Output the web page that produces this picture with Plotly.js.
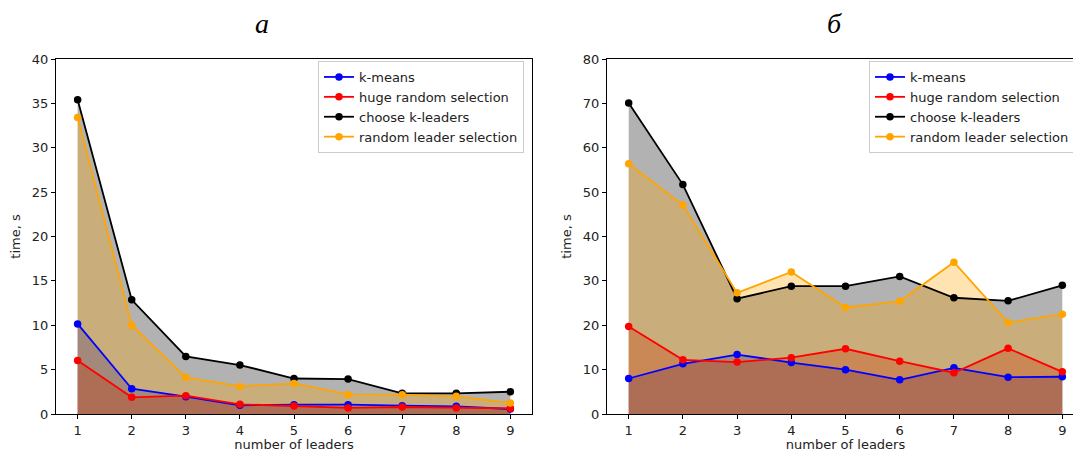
<!DOCTYPE html>
<html>
<head>
<meta charset="utf-8">
<script src="https://cdn.plot.ly/plotly-3.0.1.min.js"></script>
<style>
html, body { margin: 0; padding: 0; overflow: hidden; background: #fff; }
#chart { width: 1100px; height: 452px; }
</style>
</head>
<body>
<div id="chart"></div>
<script>
const leaders = [1, 2, 3, 4, 5, 6, 7, 8, 9];
const seriesNames = ["k-means", "huge random selection", "choose k-leaders", "random leader selection"];

// Panel а
const kmeansA = [10.15, 2.85, 1.95, 0.98, 1.05, 1.05, 0.94, 0.86, 0.56];
const hugeA   = [6.04, 1.88, 2.06, 1.09, 0.90, 0.68, 0.79, 0.68, 0.64];
const chooseA = [35.4, 12.87, 6.49, 5.52, 4.0, 3.94, 2.33, 2.33, 2.51];
const randomA = [33.4, 10.0, 4.13, 3.11, 3.45, 2.21, 2.18, 1.99, 1.24];

// Panel б
const kmeansB = [8.0, 11.3, 13.4, 11.6, 10.0, 7.7, 10.4, 8.3, 8.4];
const hugeB   = [19.7, 12.2, 11.7, 12.7, 14.7, 11.9, 9.3, 14.8, 9.5];
const chooseB = [70.1, 51.7, 26.0, 28.8, 28.8, 31.0, 26.2, 25.5, 29.0];
const randomB = [56.4, 47.1, 27.3, 32.0, 24.0, 25.4, 34.2, 20.6, 22.5];

const panelTitles = ["а", "б"];
const yTitle = "time, s";
const xTitle = "number of leaders";

const colors = ["#0000ff", "#ff0000", "#000000", "#ffa500"];
const fills = ["rgba(0,0,255,0.3)", "rgba(255,0,0,0.3)", "rgba(0,0,0,0.3)", "rgba(255,165,0,0.3)"];

const W = 1100, H = 452;
const panels = [
  {data: [kmeansA, hugeA, chooseA, randomA], xa: "x", ya: "y", legend: "legend"},
  {data: [kmeansB, hugeB, chooseB, randomB], xa: "x2", ya: "y2", legend: "legend2"}
];

const traces = [];
panels.forEach(p => {
  p.data.forEach((ys, i) => {
    traces.push({
      x: leaders, y: ys, xaxis: p.xa, yaxis: p.ya,
      type: "scatter", mode: "none", fill: "tozeroy",
      fillcolor: fills[i], showlegend: false, hoverinfo: "skip"
    });
  });
  p.data.forEach((ys, i) => {
    traces.push({
      x: leaders, y: ys, xaxis: p.xa, yaxis: p.ya,
      type: "scatter", mode: "lines+markers", name: seriesNames[i],
      line: {color: colors[i], width: 1.8},
      marker: {color: colors[i], size: 7.5},
      legend: p.legend
    });
  });
});

const font = {family: "DejaVu Sans, sans-serif", size: 13, color: "#222"};
function xax(d) {
  return {
    domain: d, range: [0.6, 9.4], tickmode: "array", tickvals: leaders,
    showgrid: false, zeroline: false, showline: true, mirror: true,
    linecolor: "#000", linewidth: 1, ticks: "outside", ticklen: 4, tickcolor: "#000",
    tickfont: font, title: {text: xTitle, font: font, standoff: 7}
  };
}
function yax(d, max, dt, anchor) {
  return {
    domain: d, range: [0, max], dtick: dt, tick0: 0, anchor: anchor,
    showgrid: false, zeroline: false, showline: true, mirror: true,
    linecolor: "#000", linewidth: 1, ticks: "outside", ticklen: 4, tickcolor: "#000",
    tickfont: font, title: {text: yTitle, font: font, standoff: 8}
  };
}
const yd = [(H - 414) / H, (H - 59) / H];
const legendBase = {
  font: font, bgcolor: "rgba(255,255,255,0.8)", bordercolor: "#cccccc", borderwidth: 1,
  xanchor: "left", yanchor: "top", y: 1 - 61 / H, tracegroupgap: 0
};

const layout = {
  width: W, height: H, margin: {l: 0, r: 0, t: 0, b: 0},
  paper_bgcolor: "#fff", plot_bgcolor: "#fff",
  xaxis: Object.assign(xax([56 / W, 532 / W]), {anchor: "y"}),
  yaxis: yax(yd, 40, 5, "x"),
  xaxis2: Object.assign(xax([607 / W, 1084 / W]), {anchor: "y2"}),
  yaxis2: yax(yd, 80, 10, "x2"),
  legend: Object.assign({}, legendBase, {x: 318 / W}),
  legend2: Object.assign({}, legendBase, {x: 869 / W}),
  annotations: [
    {text: panelTitles[0], x: 262 / W, y: 1 - 24 / H, xref: "paper", yref: "paper",
     showarrow: false, xanchor: "center", yanchor: "middle",
     font: {family: "Liberation Serif, serif", size: 28, color: "#000", style: "italic"}},
    {text: panelTitles[1], x: 835 / W, y: 1 - 24 / H, xref: "paper", yref: "paper",
     showarrow: false, xanchor: "center", yanchor: "middle",
     font: {family: "Liberation Serif, serif", size: 28, color: "#000", style: "italic"}}
  ]
};

Plotly.newPlot("chart", traces, layout, {displayModeBar: false, staticPlot: true});
</script>
</body>
</html>
